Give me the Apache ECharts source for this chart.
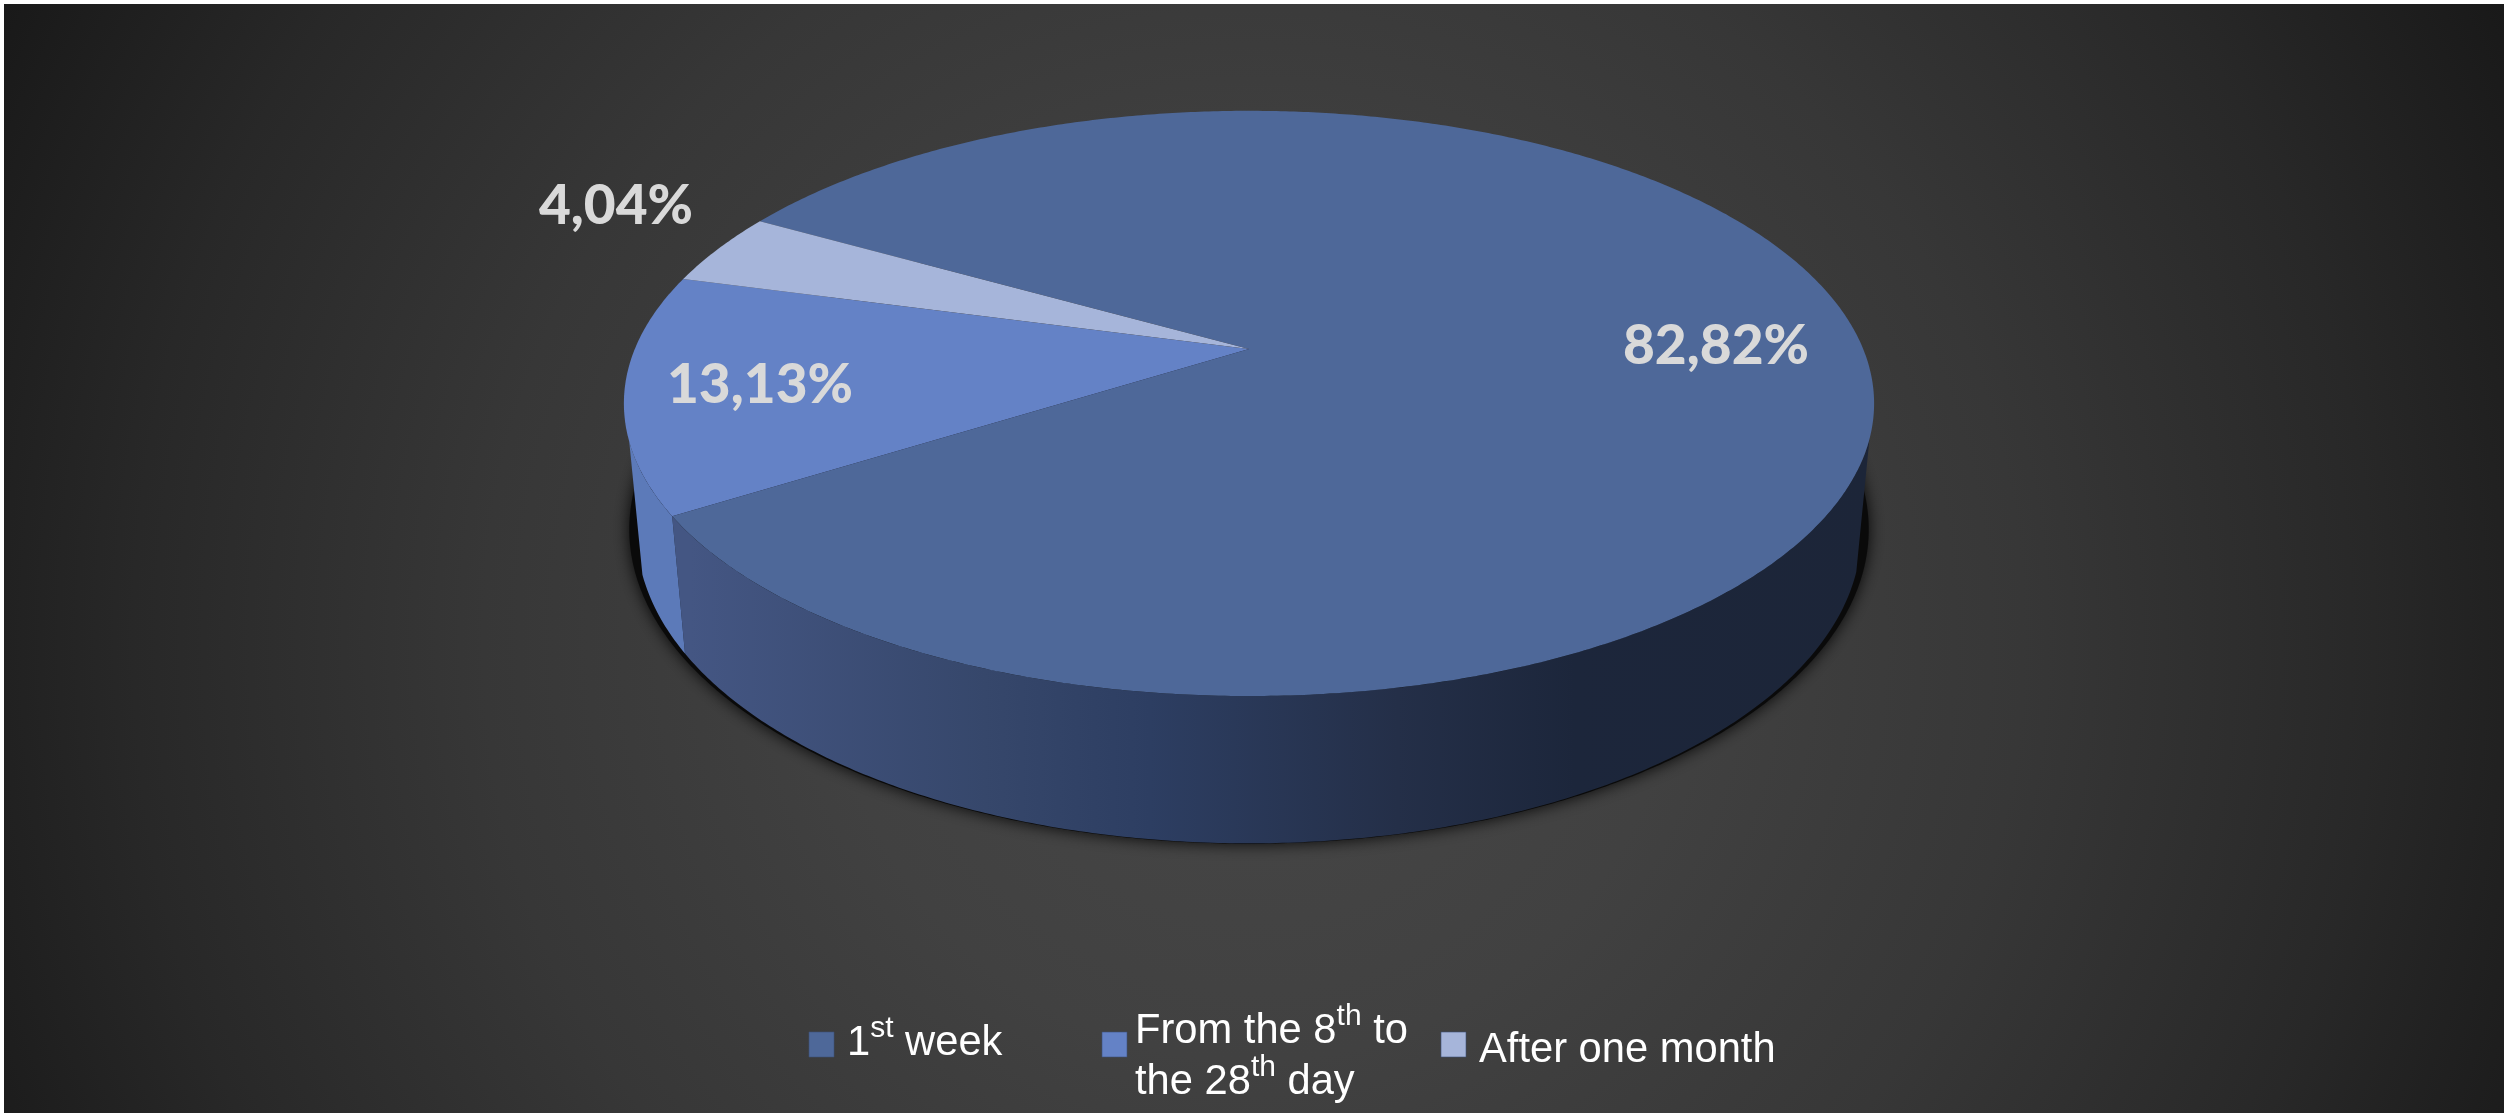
<!DOCTYPE html>
<html>
<head>
<meta charset="utf-8">
<style>
  html, body { margin: 0; padding: 0; background: #fff; }
  #chart { width: 2508px; height: 1118px; }
</style>
<script src="https://cdn.jsdelivr.net/npm/echarts@6/dist/echarts.min.js"></script>
</head>
<body>
<div id="chart"></div>
<script>
// data
const categories = ['1st week', 'From the 8th to the 28th day', 'After one month'];
const shares = [82.82, 13.13, 4.04];

// look
const topColors = ['#4e6899', '#6482c6', '#a6b5da'];
const labelSpots = [[1716, 346], [760, 385], [616, 206]];
const legendRich = [
  '{n|1}{s|st}{n| week}',
  '{n|From the 8}{s|th}{n| to}\n{n|the 28}{s|th}{n| day}',
  '{n|After one month}'
];
const legendBoxX = [809, 1102, 1441];
const legendTextX = [847, 1135, 1479];
const legendTextY = [1039, 1053, 1046];

// pie seen in perspective: X,Y on the unit disc, Z going down the wall
const view = { cx: 1249, cy: 349, a: 614.2, b: 282.5, k: 0.186, m: 0.0205, c: 130 };
const startAngle = 209.6;
// where the wall turns away from the viewer on each side
const wallRight = 17.5, wallLeft = 162;

function project(deg, r, z) {
  const t = deg * Math.PI / 180;
  const X = r * Math.cos(t), Y = r * Math.sin(t);
  const w = 1 - view.k * Y + view.m * z;
  return [view.cx + view.a * X / w, view.cy + (view.b * Y + view.c * z) / w];
}

function arc(from, to, r, z) {
  const pts = [];
  const n = Math.max(2, Math.ceil(Math.abs(to - from) * 2));
  for (let i = 0; i <= n; i++) {
    pts.push(project(from + (to - from) * i / n, r, z));
  }
  return pts;
}

const total = shares.reduce((s, v) => s + v, 0);
const spans = [];
shares.reduce((acc, v) => {
  const end = acc + v / total * 360;
  spans.push([acc, end]);
  return end;
}, startAngle);

const wallFill = new echarts.graphic.LinearGradient(690, 0, 1870, 0, [
  { offset: 0, color: '#445683' },
  { offset: 0.25, color: '#36476b' },
  { offset: 0.39, color: '#2d3e62' },
  { offset: 0.6, color: '#242f48' },
  { offset: 0.75, color: '#1c263b' },
  { offset: 1, color: '#1c2538' }
], true);
const wallFills = [wallFill, '#5c7ab9', '#a6b5da'];

function wallRange(i) {
  // only the front of the pie shows its wall
  const edge = spans[0][1] - 360;
  if (i === 0) return [wallRight, edge];
  if (i === 1) return [edge, wallLeft];
  return null;
}

function renderSlice(params, api) {
  const i = params.dataIndex;
  const kids = [];
  if (i === 0) {
    // drop shadow, pushed up a little so it shows mostly on the sides
    kids.push({
      type: 'polygon', z2: 0,
      shape: { points: arc(0, 360, 1.012, 1).map(p => [p[0], p[1] - 5]) },
      style: { fill: '#0a0a0a', shadowBlur: 16, shadowColor: 'rgba(0,0,0,0.9)' }
    });
  }
  const range = wallRange(i);
  if (range) {
    kids.push({
      type: 'polygon', z2: 1,
      shape: { points: arc(range[0], range[1], 1, 0).concat(arc(range[1], range[0], 1, 1)) },
      style: { fill: wallFills[i] }
    });
  }
  kids.push({
    type: 'polygon', z2: 2,
    shape: { points: [project(0, 0, 0)].concat(arc(spans[i][0], spans[i][1], 1, 0)) },
    style: { fill: topColors[i] }
  });
  kids.push({
    type: 'text', z2: 3,
    style: {
      x: labelSpots[i][0], y: labelSpots[i][1],
      text: api.value(1).toFixed(2).replace('.', ',') + '%',
      fill: '#d9d9d9',
      font: '900 55px Lato',
      align: 'center', verticalAlign: 'middle'
    }
  });
  return { type: 'group', children: kids };
}

const legendStyles = {
  n: { fontFamily: 'Liberation Sans', fontSize: 41.7, lineHeight: 51, fill: '#fff', verticalAlign: 'bottom' },
  s: { fontFamily: 'Liberation Sans', fontSize: 30, lineHeight: 51, fill: '#fff', verticalAlign: 'top' }
};

const legendBits = [];
categories.forEach((name, i) => {
  legendBits.push({
    type: 'rect',
    shape: { x: legendBoxX[i], y: 1032, width: 25, height: 25 },
    style: { fill: topColors[i], stroke: 'rgba(60,80,120,0.6)', lineWidth: 1 }
  });
  legendBits.push({
    type: 'text',
    x: legendTextX[i], y: legendTextY[i],
    style: {
      text: legendRich[i],
      rich: legendStyles,
      fill: '#fff',
      align: 'left', verticalAlign: 'middle'
    }
  });
});

const chart = echarts.init(document.getElementById('chart'));
chart.setOption({
  animation: false,
  backgroundColor: '#fff',
  graphic: [{
    type: 'rect', z: -1, silent: true,
    shape: { x: 4, y: 4, width: 2500, height: 1109 },
    style: {
      fill: new echarts.graphic.RadialGradient(1254, 640, 1400, [
        { offset: 0, color: '#474747' },
        { offset: 0.3, color: '#414141' },
        { offset: 0.55, color: '#373737' },
        { offset: 0.8, color: '#282828' },
        { offset: 1, color: '#191919' }
      ], true)
    }
  }].concat(legendBits),
  series: [{
    type: 'custom',
    coordinateSystem: 'none',
    silent: true,
    data: categories.map((name, i) => ({ name: name, value: [i, shares[i]] })),
    renderItem: renderSlice
  }]
});
</script>
</body>
</html>
